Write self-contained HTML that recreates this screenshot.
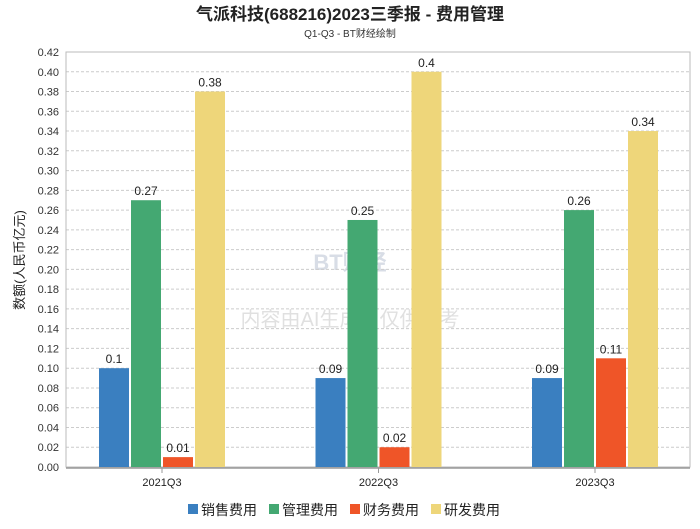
<!DOCTYPE html>
<html><head><meta charset="utf-8"><style>
body{margin:0;background:#fff;font-family:"Liberation Sans","Noto Sans CJK SC",sans-serif}
</style></head><body>
<svg width="700" height="524" xmlns="http://www.w3.org/2000/svg" id="c" font-family="Liberation Sans, Noto Sans CJK SC, sans-serif">
<text x="350" y="20" text-anchor="middle" font-size="17" font-weight="bold" fill="#222">气派科技(688216)2023三季报 - 费用管理</text>
<text x="350" y="37" text-anchor="middle" font-size="10" fill="#333">Q1-Q3 - BT财经绘制</text>
<text x="24" y="260" text-anchor="middle" font-size="13" fill="#222" transform="rotate(-90 24 260)">数额(人民币亿元)</text>
<text x="350" y="270" text-anchor="middle" font-size="22" font-weight="bold" fill="#d8dde6">BT财经</text>
<text x="350" y="326" text-anchor="middle" font-size="20" fill="#e0e0e0">内容由AI生成，仅供参考</text>
<g id="grid"></g><g id="bars"></g><g id="legend"></g>
</svg>
<script>
const categories=["2021Q3","2022Q3","2023Q3"];
const seriesNames=["销售费用","管理费用","财务费用","研发费用"];
const colors=["#3a7fc0","#44a872","#ef5528","#eed67a"];
const sales=[0.1,0.09,0.09];
const admin=[0.27,0.25,0.26];
const finance=[0.01,0.02,0.11];
const rnd=[0.38,0.4,0.34];
const yTicks=[0,0.02,0.04,0.06,0.08,0.1,0.12,0.14,0.16,0.18,0.2,0.22,0.24,0.26,0.28,0.3,0.32,0.34,0.36,0.38,0.4,0.42];
const series=[sales,admin,finance,rnd];
const L=66,R=690,T=52,B=467,yMax=0.42,NS="http://www.w3.org/2000/svg";
const y=v=>B-v/yMax*(B-T);
const gw=216.5;
const xc=i=>162+gw*i;
function mk(t,a,p,txt){const e=document.createElementNS(NS,t);for(const k in a)e.setAttribute(k,a[k]);if(txt!==undefined)e.textContent=txt;p.appendChild(e);return e;}
const g=document.getElementById('grid');
yTicks.forEach(v=>{
 const l=mk('line',{x1:L,x2:R,y1:y(v),y2:y(v),stroke:'#ccc','stroke-dasharray':'3,2'},g);
 
 
 const t=mk('text',{x:L-7,y:y(v)+4,'text-anchor':'end','font-size':11,fill:'#333'},g,v.toFixed(2));
 
 
});
const fr=mk('rect',{x:L,y:T,width:R-L,height:B-T,fill:'none',stroke:'#bbb'},g);


const ax=mk('line',{x1:L,x2:R,y1:B+1,y2:B+1,stroke:'#999','stroke-width':1.5},g);


const bg=document.getElementById('bars');
const bw=30,gap=2;
categories.forEach((c,i)=>{
 const t=mk('text',{x:xc(i),y:B+19,'text-anchor':'middle','font-size':11,fill:'#222'},bg,c);
 
 
 const tk=mk('line',{x1:xc(i),x2:xc(i),y1:B+1,y2:B+6,stroke:'#999'},bg);
 
 
 series.forEach((s,j)=>{
  const x0=xc(i)-(4*bw+3*gap)/2+j*(bw+gap);
  const r=mk('rect',{x:x0,y:y(s[i]),width:bw,height:B-y(s[i]),fill:colors[j]},bg);
  
  
  const lb=mk('text',{x:x0+bw/2,y:y(s[i])-5,'text-anchor':'middle','font-size':12,fill:'#222'},bg,String(s[i]));
  
  
 });
});
const lg=document.getElementById('legend');
let lx=188;
seriesNames.forEach((n,j)=>{
 const r=mk('rect',{x:lx,y:504,width:10,height:10,fill:colors[j]},lg);
 
 
 const t=mk('text',{x:lx+13,y:515,'font-size':14,fill:'#222'},lg,n);
 
 
 lx+=81;
});
</script>
</body></html>
